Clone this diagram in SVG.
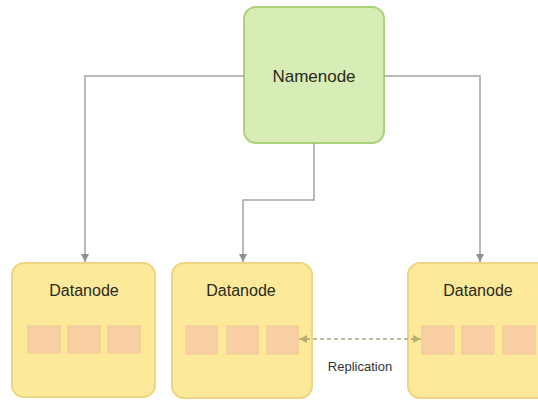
<svg xmlns="http://www.w3.org/2000/svg" width="538" height="400" viewBox="0 0 538 400">
<defs>
<style>
.nn{fill:#d8edb5;stroke:#a9d27a;stroke-width:2}
.dn{fill:#fce99a;stroke:#efd57f;stroke-width:2}
.blk{fill:#f9d0a4;stroke:#f2c596;stroke-width:1}
.lbl{font-family:"Liberation Sans",Arial,sans-serif;font-size:16px;fill:#2a2a1a;text-anchor:middle}
.sm{font-family:"Liberation Sans",Arial,sans-serif;font-size:13px;fill:#333;text-anchor:middle}
.conn{fill:none;stroke:#a3a3a3;stroke-width:1.5}
.rep{fill:none;stroke:#aaa583;stroke-width:1.5;stroke-dasharray:4 3}
</style>
<marker id="ah" viewBox="0 0 10 10" refX="10" refY="5" markerWidth="8" markerHeight="8" orient="auto" markerUnits="userSpaceOnUse">
<path d="M0,0 L10,5 L0,10 z" fill="#8f8f8f"/>
</marker>
<marker id="ar" viewBox="0 0 10 10" refX="10" refY="5" markerWidth="8" markerHeight="8" orient="auto-start-reverse" markerUnits="userSpaceOnUse">
<path d="M0,0 L10,5 L0,10 z" fill="#b8ae72"/>
</marker>
</defs>
<rect width="538" height="400" fill="#ffffff"/>
<g id="namenode">
<rect class="nn" x="244" y="7" width="140" height="136" rx="12"/>
<text class="lbl" x="314" y="82" style="font-size:17px">Namenode</text>
</g>
<g id="datanode1">
<rect class="dn" x="12" y="263" width="143" height="134" rx="12"/>
<text class="lbl" x="84" y="296">Datanode</text>
<rect class="blk" x="28" y="326" width="32" height="27"/>
<rect class="blk" x="68" y="326" width="32" height="27"/>
<rect class="blk" x="108" y="326" width="32" height="27"/>
</g>
<g id="datanode2">
<rect class="dn" x="172" y="263" width="140" height="135" rx="12"/>
<text class="lbl" x="241" y="296">Datanode</text>
<rect class="blk" x="186" y="326" width="31" height="28"/>
<rect class="blk" x="227" y="326" width="31" height="28"/>
<rect class="blk" x="267" y="326" width="31" height="28"/>
</g>
<g id="datanode3">
<rect class="dn" x="408" y="263" width="143" height="135" rx="12"/>
<text class="lbl" x="478" y="296">Datanode</text>
<rect class="blk" x="422" y="326" width="32" height="28"/>
<rect class="blk" x="462" y="326" width="32" height="28"/>
<rect class="blk" x="503" y="326" width="32" height="28"/>
</g>
<g id="connectors">
<path class="conn" d="M244,76 H85 V262" marker-end="url(#ah)"/>
<path class="conn" d="M384,76 H480 V262" marker-end="url(#ah)"/>
<path class="conn" d="M314,143 V200 H243 V262" marker-end="url(#ah)"/>
<path class="rep" d="M299,339 H421" marker-start="url(#ar)" marker-end="url(#ar)"/>
</g>
<text class="sm" x="360" y="371">Replication</text>
</svg>
